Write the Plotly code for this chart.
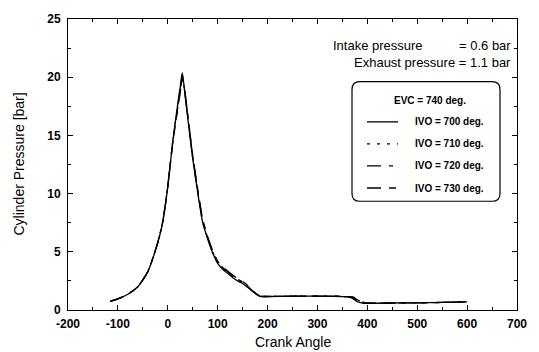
import plotly.graph_objects as go

crank_angle = [-115, -100, -80, -60, -40, -20, -10, 0, 10, 20, 25, 29, 35, 40, 50, 60, 70, 80, 90,
               100, 110, 120, 130, 140, 150, 160, 170, 180, 185, 200, 250, 300, 350, 360, 370,
               380, 390, 400, 450, 500, 550, 600]

p_ivo700 = [0.75, 0.95, 1.35, 2.0, 3.3, 5.8, 7.6, 10.6, 14.5, 17.7, 19.2, 20.4, 18.3, 16.5, 13.0, 10.1,
            7.5, 6.1, 4.9, 4.0, 3.5, 3.15, 2.8, 2.5, 2.28, 1.95, 1.6, 1.3, 1.18, 1.16, 1.18, 1.2,
            1.15, 1.12, 1.0, 0.72, 0.6, 0.58, 0.6, 0.62, 0.65, 0.7]
p_ivo710 = [0.75, 0.95, 1.35, 2.0, 3.3, 5.8, 7.6, 10.6, 14.5, 17.6, 19.0, 20.2, 18.4, 16.6, 13.1, 10.2,
            7.6, 6.2, 5.0, 4.1, 3.6, 3.25, 2.9, 2.6, 2.35, 2.0, 1.62, 1.3, 1.18, 1.16, 1.18, 1.2,
            1.16, 1.14, 1.06, 0.8, 0.62, 0.58, 0.6, 0.62, 0.65, 0.7]
p_ivo720 = [0.75, 0.95, 1.35, 2.0, 3.3, 5.8, 7.6, 10.6, 14.4, 17.4, 18.8, 20.0, 18.5, 16.7, 13.2, 10.3,
            7.7, 6.2, 5.0, 4.15, 3.65, 3.3, 2.95, 2.65, 2.4, 2.05, 1.64, 1.3, 1.18, 1.16, 1.18, 1.2,
            1.17, 1.15, 1.1, 0.88, 0.65, 0.59, 0.6, 0.62, 0.65, 0.7]
p_ivo730 = [0.75, 0.95, 1.35, 2.0, 3.3, 5.8, 7.6, 10.6, 14.4, 17.3, 18.7, 19.9, 18.6, 16.8, 13.3, 10.4,
            7.8, 6.3, 5.1, 4.2, 3.7, 3.35, 3.0, 2.7, 2.45, 2.1, 1.66, 1.3, 1.18, 1.16, 1.18, 1.2,
            1.18, 1.16, 1.12, 0.95, 0.7, 0.6, 0.6, 0.62, 0.65, 0.7]

series_names = ["IVO = 700 deg.", "IVO = 710 deg.", "IVO = 720 deg.", "IVO = 730 deg."]
series_values = [p_ivo700, p_ivo710, p_ivo720, p_ivo730]
series_dash = ["solid", "3px,7px", "14px,8px,4px,8px", "14px,8px,7px,8px"]

x_ticks = [-200, -100, 0, 100, 200, 300, 400, 500, 600, 700]
y_ticks = [0, 5, 10, 15, 20, 25]

W, H = 539, 352
L, R, T, B = 68, 22, 13, 42
pw, ph = W - L - R, H - T - B


def px(xp):
    return (xp - L) / pw


def py(yp):
    return (H - B - yp) / ph


fig = go.Figure()
for name, vals, dash in zip(series_names, series_values, series_dash):
    fig.add_trace(go.Scatter(x=crank_angle, y=vals, mode="lines", name=name,
                             line=dict(color="black", width=1.3, dash=dash, shape="spline",
                                       smoothing=0.6),
                             showlegend=False))

tickfont = dict(family="Liberation Sans, Arial", size=12, color="black")
axis_common = dict(showline=True, linecolor="black", linewidth=1, mirror="allticks",
                   ticks="inside", ticklen=5, tickwidth=1, tickcolor="black",
                   showgrid=False, zeroline=False, tickfont=tickfont)

fig.update_xaxes(range=[-200, 700], tickvals=x_ticks, ticktext=[f"<b>{v}</b>" for v in x_ticks],
                 ticklabelstandoff=3,
                 minor=dict(dtick=50, ticks="inside", ticklen=3, tickcolor="black"),
                 **axis_common)
fig.update_yaxes(range=[0, 25], tickvals=y_ticks, ticktext=[f"<b>{v}</b>" for v in y_ticks],
                 ticklabelstandoff=4,
                 minor=dict(dtick=2.5, ticks="inside", ticklen=3, tickcolor="black"),
                 **axis_common)

annotations = []
title_font = dict(family="Liberation Sans, Arial", size=14, color="black")
annotations.append(dict(text="Crank Angle", xref="paper", yref="paper", x=0.5, y=py(343),
                        showarrow=False, font=title_font, xanchor="center", yanchor="middle"))
annotations.append(dict(text="Cylinder Pressure [bar]", xref="paper", yref="paper", x=px(18),
                        y=0.5, showarrow=False, font=title_font, textangle=-90,
                        xanchor="center", yanchor="middle"))

info_font = dict(family="Liberation Sans, Arial", size=13, color="black")
annotations.append(dict(text="Intake pressure", xref="paper", yref="paper", x=px(331), y=py(40),
                        showarrow=False, font=info_font, xanchor="left", yanchor="middle"))
annotations.append(dict(text="= 0.6 bar", xref="paper", yref="paper", x=px(513), y=py(40),
                        showarrow=False, font=info_font, xanchor="right", yanchor="middle"))
annotations.append(dict(text="Exhaust pressure = 1.1 bar", xref="paper", yref="paper", x=px(513),
                        y=py(57), showarrow=False, font=info_font, xanchor="right",
                        yanchor="middle"))

leg_font = dict(family="Liberation Sans, Arial", size=10, color="black", weight="bold")
annotations.append(dict(text="EVC = 740 deg.", xref="paper", yref="paper", x=px(430), y=py(96),
                        showarrow=False, font=leg_font, xanchor="center", yanchor="middle"))

shapes = []
# rounded legend box
x0, x1, y0, y1 = 352, 500, 77, 199
r = 8
path = (f"M {px(x0 + r)},{py(y0)} L {px(x1 - r)},{py(y0)} Q {px(x1)},{py(y0)} {px(x1)},{py(y0 + r)} "
        f"L {px(x1)},{py(y1 - r)} Q {px(x1)},{py(y1)} {px(x1 - r)},{py(y1)} "
        f"L {px(x0 + r)},{py(y1)} Q {px(x0)},{py(y1)} {px(x0)},{py(y1 - r)} "
        f"L {px(x0)},{py(y0 + r)} Q {px(x0)},{py(y0)} {px(x0 + r)},{py(y0)} Z")
shapes.append(dict(type="path", path=path, xref="paper", yref="paper",
                   line=dict(color="black", width=1.2), fillcolor="white", layer="above"))

row_y = [118, 140.5, 163, 185.5]
for name, dash, yy in zip(series_names, series_dash, row_y):
    shapes.append(dict(type="line", xref="paper", yref="paper", x0=px(367), x1=px(398),
                       y0=py(yy), y1=py(yy), line=dict(color="black", width=1.3, dash=dash),
                       layer="above"))
    annotations.append(dict(text=name, xref="paper", yref="paper", x=px(413), y=py(yy),
                            showarrow=False, font=leg_font, xanchor="left", yanchor="middle"))

fig.update_layout(width=W, height=H, margin=dict(l=L, r=R, t=T, b=B),
                  paper_bgcolor="white", plot_bgcolor="white",
                  annotations=annotations, shapes=shapes, showlegend=False)

fig.write_html("out.html")
